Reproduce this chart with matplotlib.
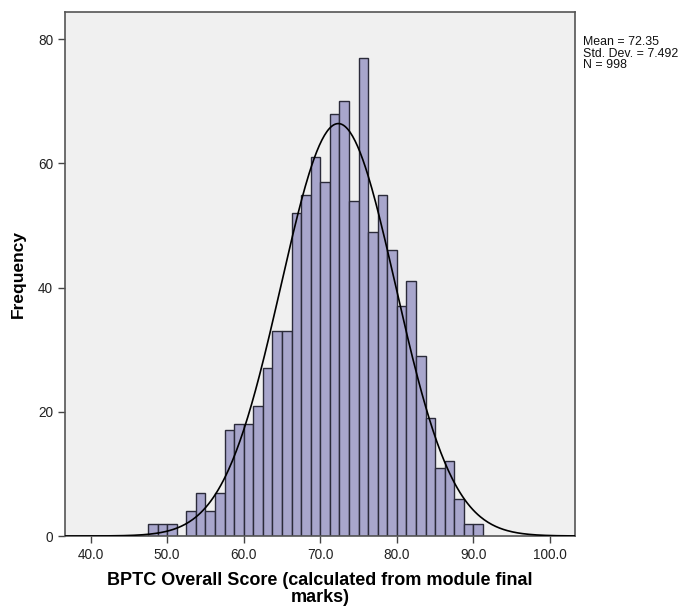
import numpy as np
import matplotlib
matplotlib.use('Agg')
import matplotlib.pyplot as plt

plt.rcParams['font.family'] = ['Liberation Sans', 'DejaVu Sans']

# histogram bins (left edges, width 1.25) and counts
bin_start = 47.5
bin_width = 1.25
counts = [2, 2, 2, 0, 4, 7, 4, 7, 17, 18, 18, 21, 27, 33, 33, 52, 55, 61,
          57, 68, 70, 54, 77, 49, 55, 46, 37, 41, 29, 19, 11, 12, 6, 2, 2]
mean = 72.35
std = 7.492
n = 998

x_ticks = [40, 50, 60, 70, 80, 90, 100]
y_ticks = [0, 20, 40, 60, 80]

lefts = bin_start + bin_width * np.arange(len(counts))

fig = plt.figure(figsize=(6.88, 6.11), dpi=100)
ax = fig.add_axes([65/688, 1-536/611, 510/688, 524/611])
ax.set_facecolor('#f0f0f0')

ax.bar(lefts, counts, width=bin_width, align='edge', color='#a8a6cc',
       edgecolor='#2b2b3a', linewidth=1.0, zorder=2)

# normal curve
xs = np.linspace(36.67, 103.26, 400)
ys = n * bin_width / (std * np.sqrt(2*np.pi)) * np.exp(-0.5*((xs-mean)/std)**2)
ax.plot(xs, ys, color='black', linewidth=1.2, zorder=3)

ax.set_xlim(36.67, 103.26)
ax.set_ylim(0, 84.4)
ax.set_xticks(x_ticks)
ax.set_xticklabels(['%.1f' % t for t in x_ticks])
ax.set_yticks(y_ticks)
ax.tick_params(direction='out', length=5, width=1, color='#444444',
               labelsize=9.8, labelcolor='#222222')
for s in ax.spines.values():
    s.set_color('#555555')
    s.set_linewidth(1.2)

ax.set_xlabel('BPTC Overall Score (calculated from module final\nmarks)',
              fontsize=13, fontweight='bold', linespacing=1.0, labelpad=7)
ax.set_ylabel('Frequency', fontsize=12.5, fontweight='bold', labelpad=9)

fig.text(583/688, 1-36/611, 'Mean = 72.35\nStd. Dev. = 7.492\nN = 998',
         fontsize=8.9, va='top', ha='left', linespacing=0.95, color='#111111')

plt.savefig('out.png', dpi=100)
